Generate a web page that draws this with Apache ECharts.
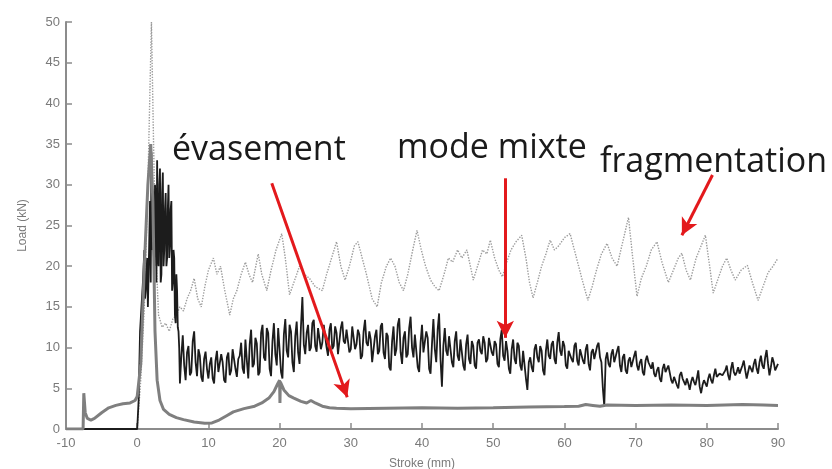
<!DOCTYPE html>
<html>
<head>
<meta charset="utf-8">
<script src="https://cdn.jsdelivr.net/npm/echarts@6/dist/echarts.min.js"></script>
<style>
  html, body { margin: 0; padding: 0; background: #fff; }
  #chart { width: 832px; height: 469px; }
</style>
</head>
<body>
<div id="chart"></div>
<script>
// flaring (évasement) - thick grey curve, [stroke mm, load kN]
let flaringCurve = [
    [-10, 0], [-7.6, 0], [-7.5, 4.4], [-7.3, 2], [-7, 1.3], [-6.5, 1.1], [-6, 1.3], [-5, 2],
    [-4, 2.6], [-3, 2.9], [-2, 3.1], [-1, 3.2], [-0.3, 3.5], [0, 4], [0.5, 8], [1, 20],
    [1.5, 30], [1.9, 35], [2.2, 28], [2.5, 12], [2.8, 6], [3.2, 3.5], [3.7, 2.4], [4.5, 1.8],
    [5.5, 1.4], [6.5, 1.15], [8, 0.85], [9.5, 0.7], [10.5, 0.75], [11.5, 1.1], [12.5, 1.6],
    [13.5, 2.1], [15, 2.5], [16.5, 2.8], [17.5, 3.2], [18.5, 3.8], [19.2, 4.6], [19.7, 5.5],
    [20, 6], [20.05, 3.2], [20.1, 5.8], [20.6, 4.8], [21.3, 4.1], [22, 3.8], [23, 3.4],
    [23.8, 3.2], [24.4, 3.5], [25, 3.2], [26, 2.8], [27, 2.6], [28, 2.55], [30, 2.5],
    [35, 2.55], [40, 2.6], [45, 2.55], [50, 2.6], [55, 2.7], [60, 2.75], [62, 2.8], [63, 3],
    [64, 2.9], [65, 2.8], [66, 2.95], [70, 2.9], [75, 2.95], [80, 2.9], [85, 3], [88, 2.95], [90, 2.9]
];

// fragmentation - dotted light grey curve
let fragmentCurve = [
    [0, 0], [0.5, 6], [1, 15], [1.5, 30], [2, 50], [2.3, 35], [2.6, 22], [3, 14], [3.5, 12.5],
    [4, 13], [4.5, 12], [5, 13.5], [5.5, 14], [6, 15], [6.5, 14.5], [7, 16], [7.5, 17], [8, 18.5],
    [8.5, 16], [9, 15], [9.5, 17.5], [10, 19.5], [10.7, 21], [11.2, 19], [11.7, 20], [12.3, 17],
    [13, 14], [13.5, 16], [14, 17], [14.6, 19], [15.2, 20.5], [15.7, 19], [16.2, 18], [17, 21.5],
    [17.5, 19], [18.2, 17], [18.8, 19.5], [19.5, 22], [20.3, 24], [20.8, 21], [21.4, 16.5],
    [22, 18], [22.8, 20], [23.5, 19], [24.2, 18.5], [25, 17.5], [26, 17], [26.6, 19], [27.3, 21],
    [28, 23], [28.6, 20], [29.2, 18.3], [29.8, 20], [30.5, 22.5], [31, 23], [31.6, 21], [32.2, 19],
    [33, 16], [33.7, 15], [34.3, 18], [35, 20], [35.6, 21], [36.2, 20], [36.8, 18], [37.4, 17],
    [38, 19], [38.7, 22], [39.3, 24.4], [39.9, 22], [40.5, 20], [41.2, 18.3], [41.8, 17.5],
    [42.4, 17], [43.1, 19], [43.7, 21], [44.3, 20.5], [45, 22], [45.6, 21], [46.3, 22], [46.8, 20],
    [47.2, 18.3], [47.8, 20], [48.5, 22], [49.1, 21.5], [49.6, 23.2], [50.2, 21], [50.8, 19.5],
    [51.3, 18.7], [51.9, 20.5], [52.5, 22], [53.2, 23], [54, 23.8], [54.6, 21], [55.1, 18],
    [55.6, 16.1], [56.2, 18], [56.8, 20], [57.4, 21.5], [58, 23.2], [58.6, 22], [59.2, 22.5],
    [60, 23.5], [60.8, 24], [61.4, 22], [62, 20], [62.6, 18], [63.3, 15.8], [63.9, 17.5],
    [64.5, 19.5], [65.2, 21.5], [66, 22.8], [66.7, 21], [67.4, 20], [68.2, 23], [69, 26],
    [69.6, 21], [70.2, 16.3], [70.8, 18.5], [71.5, 20], [72.2, 22], [73, 23], [73.7, 20.5],
    [74.6, 18], [75.3, 19.5], [76, 21], [76.5, 21.6], [77.1, 19.5], [77.7, 18.3], [78.5, 21],
    [79.2, 22.5], [79.8, 23.8], [80.4, 20], [80.9, 16.7], [81.6, 18.5], [82.2, 20], [82.8, 21],
    [83.4, 19.5], [84, 18.3], [84.8, 19.5], [85.7, 20.1], [86.4, 18], [87.2, 15.8], [87.9, 17.5],
    [88.6, 19.2], [89.3, 20], [90, 21]
];

// mixed mode - black noisy curve, first part as pairs
let mixedHead = [
    [-10, 0], [0, 0], [0.2, 3.5], [0.4, 12], [0.6, 15], [0.8, 18], [1.0, 22], [1.1, 16], [1.2, 17], [1.4, 21],
    [1.5, 15], [1.6, 19], [1.8, 28], [1.9, 18], [2.0, 34], [2.1, 22], [2.2, 24], [2.4, 20], [2.5, 30],
    [2.6, 28], [2.7, 18], [2.8, 33], [2.9, 21], [3.0, 20], [3.1, 30], [3.2, 32], [3.3, 18], [3.4, 19],
    [3.5, 29], [3.6, 31.5], [3.7, 20], [3.8, 22], [3.9, 27], [4.0, 29], [4.1, 20], [4.2, 21], [4.3, 27],
    [4.4, 30], [4.5, 21], [4.6, 22.5], [4.7, 27], [4.8, 28], [4.9, 17], [5.0, 18], [5.1, 22], [5.2, 21],
    [5.3, 14], [5.4, 13], [5.5, 19], [5.6, 17], [5.7, 12.5], [5.8, 12], [5.9, 10], [6.0, 5.6], [6.2, 9.0]
];
// then sampled every 0.2 mm starting at 6.4 mm
let mixedStart = 6.4;
let mixedStep = 0.2;
let mixedLoad = [
    11.5, 7.8, 6.0, 9.4, 10.2, 6.6, 7.0, 10.8, 12.0, 8.2, 6.5, 9.8, 9.0, 6.4, 5.8, 8.6, 9.5, 7.4, 6.2, 8.0,
    8.8, 6.2, 5.6, 8.4, 9.6, 7.0, 6.8, 9.2, 8.2, 6.0, 5.7, 8.8, 9.4, 6.6, 7.2, 9.8, 10.0, 7.4, 6.4, 8.6,
    9.0, 10.6, 7.5, 6.8, 11.0, 8.4, 6.2, 10.4, 12.2, 7.6, 8.0, 11.2, 10.5, 6.6, 7.0, 11.8, 12.8, 8.8, 8.4, 12.4,
    11.8, 7.4, 6.5, 10.8, 13.0, 9.2, 7.8, 12.4, 12.5, 7.0, 6.2, 11.6, 13.5, 9.6, 8.8, 12.8, 12.0, 8.2, 7.0, 11.4,
    13.2, 9.4, 8.0, 12.6, 16.2, 10.4, 9.2, 11.8, 12.8, 9.6, 10.0, 13.0, 13.4, 10.2, 9.5, 12.4, 12.2, 9.8, 10.6, 12.8,
    12.6, 10.0, 9.0, 12.2, 13.0, 9.8, 10.2, 12.6, 11.8, 9.2, 9.4, 12.4, 13.2, 10.8, 10.5, 12.2, 12.0, 9.4, 9.8, 12.6,
    12.8, 9.8, 10.4, 12.2, 11.6, 8.6, 9.0, 12.0, 13.4, 10.6, 10.2, 12.0, 11.0, 8.2, 8.4, 11.4, 12.2, 9.2, 9.6, 12.6,
    13.0, 9.4, 8.6, 11.8, 11.4, 7.6, 7.2, 10.8, 12.6, 9.0, 9.8, 12.8, 13.6, 9.4, 8.0, 11.2, 12.0, 8.8, 9.2, 12.4,
    13.8, 10.0, 8.8, 11.6, 11.5, 7.6, 7.0, 10.6, 12.8, 9.4, 9.6, 12.0, 11.2, 7.4, 6.8, 10.4, 13.5, 9.8, 8.2, 12.2,
    14.2, 8.6, 5.2, 10.2, 12.4, 9.6, 9.0, 11.4, 11.6, 8.2, 7.6, 10.8, 12.0, 9.0, 8.4, 11.0, 10.8, 7.8, 7.2, 10.4,
    11.6, 8.6, 8.0, 10.8, 10.2, 7.8, 7.4, 10.6, 11.0, 9.6, 9.2, 11.4, 10.6, 8.2, 8.6, 11.2, 11.2, 9.4, 9.0, 10.8,
    10.4, 8.0, 7.6, 11.0, 12.2, 9.0, 8.4, 10.8, 9.6, 7.4, 6.8, 9.8, 11.0, 8.6, 8.0, 10.6, 10.2, 7.8, 7.2, 9.6,
    9.4, 6.2, 4.8, 8.2, 8.8, 7.6, 7.0, 9.8, 10.4, 8.8, 8.2, 10.2, 9.6, 7.2, 6.6, 9.6, 11.0, 9.0, 8.6, 10.4,
    10.8, 8.6, 8.0, 10.6, 11.9, 9.6, 9.0, 10.8, 10.2, 7.8, 7.4, 9.6, 9.8, 8.6, 8.2, 10.2, 10.6, 8.4, 7.8, 9.8,
    9.6, 8.4, 8.0, 9.8, 10.4, 8.0, 7.2, 9.4, 9.8, 8.6, 8.4, 10.2, 10.6, 8.8, 8.2, 5.0, 2.8, 8.6, 9.4, 8.0,
    7.6, 9.2, 9.8, 8.2, 8.0, 9.6, 10.2, 7.8, 7.0, 8.8, 9.2, 7.2, 6.8, 8.4, 8.8, 7.6, 7.4, 9.0, 9.6, 7.8,
    7.2, 8.2, 8.6, 7.0, 6.6, 8.4, 9.0, 8.2, 7.8, 7.4, 8.2, 6.8, 6.4, 7.2, 7.6, 6.2, 5.8, 7.4, 8.0, 7.0,
    6.8, 7.8, 7.6, 6.0, 5.6, 6.4, 6.6, 5.4, 5.0, 6.6, 7.0, 6.2, 5.8, 5.4, 6.2, 5.6, 4.8, 5.8, 6.4, 5.8,
    5.4, 6.2, 7.2, 5.2, 4.4, 5.4, 6.0, 5.6, 5.2, 6.2, 6.8, 6.0, 5.6, 6.6, 7.4, 6.4, 6.2, 6.8, 7.0, 6.6,
    6.4, 7.2, 7.8, 6.6, 6.0, 7.4, 8.2, 7.0, 6.6, 7.0, 7.6, 6.8, 6.8, 7.8, 8.4, 7.2, 6.2, 7.0, 7.8, 7.4,
    7.0, 8.0, 8.6, 7.4, 6.8, 8.2, 9.0, 7.8, 7.4, 8.8, 9.7, 8.0, 6.6, 7.6, 8.8, 8.2, 7.2, 7.6, 8.0
];

// annotations: labels and arrows in data coordinates
let labels = ['évasement', 'mode mixte', 'fragmentation'];
let arrowFrom = [[18.9, 30.2], [51.7, 30.8], [80.8, 31.2]];
let arrowTo = [[29.5, 3.9], [51.7, 11.2], [76.5, 23.8]];

let mixedCurve = mixedHead.slice();
for (let i = 0; i < mixedLoad.length; i++) {
    mixedCurve.push([+(mixedStart + i * mixedStep).toFixed(2), mixedLoad[i]]);
}

let arrowLines = [];
for (let i = 0; i < arrowFrom.length; i++) {
    arrowLines.push([{coord: arrowFrom[i]}, {coord: arrowTo[i]}]);
}

let myChart = echarts.init(document.getElementById('chart'));
let axisGrey = '#8c8c8c';
let labelFont = {color: '#7a7a7a', fontSize: 13, fontFamily: 'Liberation Sans'};
let noteFont = '34px "Open Sans"';

myChart.setOption({
    animation: false,
    grid: {left: 66, right: 54, top: 22, bottom: 40, containLabel: false, outerBoundsMode: 'none'},
    xAxis: {
        type: 'value',
        min: -10,
        max: 90,
        interval: 10,
        name: 'Stroke (mm)',
        nameLocation: 'middle',
        nameGap: 29,
        nameTextStyle: {color: '#7a7a7a', fontSize: 12, fontFamily: 'Liberation Sans'},
        axisLine: {onZero: false, lineStyle: {color: axisGrey, width: 2}},
        axisTick: {inside: true, length: 6, lineStyle: {color: axisGrey, width: 1.5}},
        axisLabel: Object.assign({margin: 8}, labelFont),
        splitLine: {show: false}
    },
    yAxis: {
        type: 'value',
        min: 0,
        max: 50,
        interval: 5,
        name: 'Load (kN)',
        nameLocation: 'middle',
        nameGap: 37,
        nameTextStyle: {color: '#7a7a7a', fontSize: 12, fontFamily: 'Liberation Sans'},
        axisLine: {show: true, onZero: false, lineStyle: {color: axisGrey, width: 2}},
        axisTick: {show: true, inside: true, length: 6, lineStyle: {color: axisGrey, width: 1.5}},
        axisLabel: Object.assign({margin: 6}, labelFont),
        splitLine: {show: false}
    },
    series: [
        {
            name: 'fragmentation',
            type: 'line',
            data: fragmentCurve,
            symbol: 'none',
            lineStyle: {color: '#9c9c9c', width: 1.4, type: 'dotted'},
            z: 2
        },
        {
            name: 'mode mixte',
            type: 'line',
            data: mixedCurve,
            symbol: 'none',
            lineStyle: {color: '#1c1c1c', width: 1.8},
            z: 3,
            markLine: {
                silent: true,
                symbol: ['none', 'arrow'],
                symbolSize: [13, 17],
                label: {show: false},
                lineStyle: {color: '#e3191c', width: 3, type: 'solid'},
                data: arrowLines,
                z: 10
            }
        },
        {
            name: 'évasement',
            type: 'line',
            data: flaringCurve,
            symbol: 'none',
            lineStyle: {color: '#7f7f7f', width: 3},
            z: 4
        }
    ],
    graphic: [
        {type: 'text', x: 172, y: 150, style: {text: labels[0], font: noteFont, fill: '#1a1a1a', verticalAlign: 'middle', textVerticalAlign: 'middle'}},
        {type: 'text', x: 397, y: 148, style: {text: labels[1], font: noteFont, fill: '#1a1a1a', verticalAlign: 'middle', textVerticalAlign: 'middle'}},
        {type: 'text', x: 600, y: 162, style: {text: labels[2], font: noteFont, fill: '#1a1a1a', verticalAlign: 'middle', textVerticalAlign: 'middle'}}
    ]
});
</script>
</body>
</html>
